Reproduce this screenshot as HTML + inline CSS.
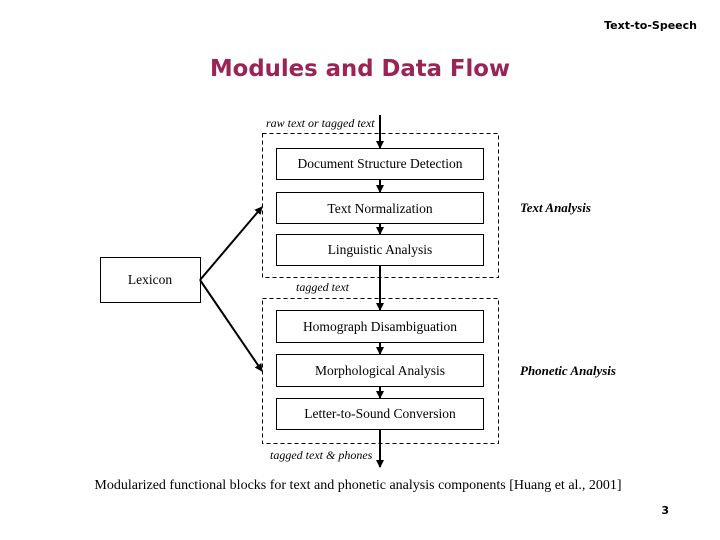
<!DOCTYPE html>
<html><head><meta charset="utf-8"><style>
html,body{margin:0;padding:0;background:#fff;}
svg{display:block;}
.s{font-family:"Liberation Serif",serif;font-size:13.5px;fill:#000;}
.i{font-family:"Liberation Serif",serif;font-style:italic;font-size:12px;fill:#000;}
.b{font-family:"Liberation Serif",serif;font-style:italic;font-weight:bold;font-size:13px;fill:#000;}
</style></head><body>
<svg width="720" height="540" viewBox="0 0 720 540" xmlns="http://www.w3.org/2000/svg">
<defs><marker id="a" markerWidth="8" markerHeight="8" refX="7" refY="4" orient="auto" markerUnits="userSpaceOnUse"><path d="M0,0 L8,4 L0,8 z" fill="#000"/></marker></defs>
<text x="697" y="29" text-anchor="end" style="font-family:'DejaVu Sans',sans-serif;font-weight:bold;font-size:11px">Text-to-Speech</text>
<text x="210" y="76" textLength="300" lengthAdjust="spacingAndGlyphs" style="font-family:'DejaVu Sans',sans-serif;font-weight:bold;font-size:23px;fill:#9b2356">Modules and Data Flow</text>
<g fill="none" stroke="#000" stroke-width="1" stroke-dasharray="4,3">
<rect x="262.5" y="133.5" width="236" height="144"/>
<rect x="262.5" y="298.5" width="236" height="145"/>
</g>
<g fill="#fff" stroke="#000" stroke-width="1">
<rect x="276.5" y="148.5" width="207" height="31"/>
<rect x="276.5" y="192.5" width="207" height="31"/>
<rect x="276.5" y="234.5" width="207" height="31"/>
<rect x="276.5" y="310.5" width="207" height="32"/>
<rect x="276.5" y="354.5" width="207" height="32"/>
<rect x="276.5" y="398.5" width="207" height="31"/>
<rect x="100.5" y="257.5" width="100" height="45"/>
</g>
<g stroke="#000" stroke-width="2" marker-end="url(#a)">
<line x1="380" y1="115" x2="380" y2="148"/>
<line x1="380" y1="180" x2="380" y2="192"/>
<line x1="380" y1="224" x2="380" y2="234"/>
<line x1="380" y1="266" x2="380" y2="310"/>
<line x1="380" y1="343" x2="380" y2="354"/>
<line x1="380" y1="387" x2="380" y2="398"/>
<line x1="380" y1="430" x2="380" y2="467"/>
<line x1="200" y1="280" x2="262" y2="207"/>
<line x1="200" y1="280" x2="262" y2="371"/>
</g>
<text class="i" x="266" y="127">raw text or tagged text</text>
<text class="s" x="380" y="168" text-anchor="middle">Document Structure Detection</text>
<text class="s" x="380" y="213" text-anchor="middle">Text Normalization</text>
<text class="s" x="380" y="254" text-anchor="middle">Linguistic Analysis</text>
<text class="s" x="150" y="284" text-anchor="middle">Lexicon</text>
<text class="i" x="296" y="291">tagged text</text>
<text class="s" x="380" y="331" text-anchor="middle">Homograph Disambiguation</text>
<text class="s" x="380" y="375" text-anchor="middle">Morphological Analysis</text>
<text class="s" x="380" y="418" text-anchor="middle">Letter-to-Sound Conversion</text>
<text class="i" x="270" y="459">tagged text &amp; phones</text>
<text class="b" x="520" y="212">Text Analysis</text>
<text class="b" x="520" y="375">Phonetic Analysis</text>
<text x="358" y="489" text-anchor="middle" style="font-family:'Liberation Serif',serif;font-size:14px">Modularized functional blocks for text and phonetic analysis components [Huang et al., 2001]</text>
<text x="669" y="514" text-anchor="end" style="font-family:'DejaVu Sans',sans-serif;font-weight:bold;font-size:11px">3</text>
</svg>
</body></html>
